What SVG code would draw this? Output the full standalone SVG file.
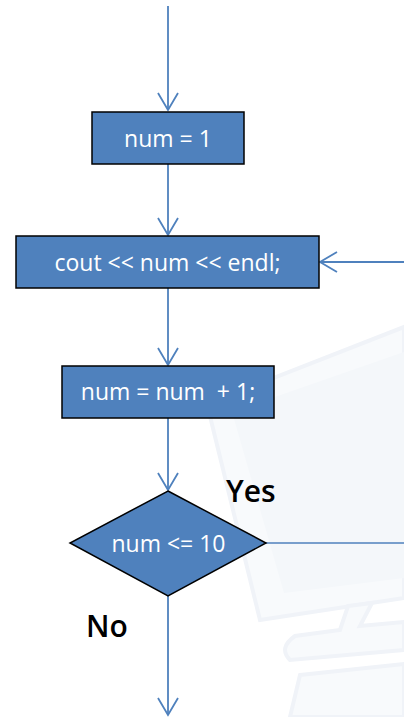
<svg xmlns="http://www.w3.org/2000/svg" width="404" height="717" viewBox="0 0 404 717">
  <style>
    .box { fill: #4F81BD; stroke: #000000; stroke-width: 1.5; }
    .lbl { font-family: "Open Sans", "Noto Sans", sans-serif; font-size: 23px; fill: #FFFFFF; text-anchor: middle; }
    .big { font-family: "Open Sans", "Noto Sans", sans-serif; font-size: 30px; font-weight: 600; fill: #000000; }
    .conn { fill: none; stroke: #4F81BD; stroke-width: 1.8; }
    .thin { fill: none; stroke: #4F81BD; stroke-width: 1.5; }
    .bgf { fill: #F8FAFC; stroke: #F0F3F8; stroke-width: 4; }
    .bgi { fill: #F4F7FA; stroke: none; }
  </style>
  <defs>
    <marker id="arr" viewBox="-1 -12 20 24" refX="17" refY="0" markerWidth="20" markerHeight="24" markerUnits="userSpaceOnUse" orient="auto">
      <path d="M0,-10 L17,0 L0,10" fill="none" stroke="#4F81BD" stroke-width="1.8"/>
    </marker>
  </defs>

  <rect x="0" y="0" width="404" height="717" fill="#FFFFFF"/>

  <g id="background">
    <path class="bgf" d="M207,404 L404,327 L404,598 L260,620 Z"/>
    <path class="bgi" d="M232,412 L404,352 L404,578 L284,593 Z"/>
    <path class="bgf" d="M348,606 L372,603 L360,626 L404,622 L404,650 L290,660 Q278,648 295,636 L340,630 Z"/>
    <path class="bgf" d="M300,675 L404,664 L404,717 L290,717 Z"/>
  </g>

  <g id="connectors">
    <path class="conn" d="M168,6 V110" marker-end="url(#arr)"/>
    <path class="conn" d="M168,164 V235" marker-end="url(#arr)"/>
    <path class="conn" d="M168,288 V365" marker-end="url(#arr)"/>
    <path class="conn" d="M168,418 V490" marker-end="url(#arr)"/>
    <path class="conn" d="M168,596 V715" marker-end="url(#arr)"/>
    <path class="thin" d="M266,543 H404"/>
    <path class="conn" d="M404,262 H320" marker-end="url(#arr)"/>
  </g>

  <g id="init">
    <rect class="box" x="92" y="112" width="152" height="52"/>
    <text class="lbl" x="168" y="147">num = 1</text>
  </g>

  <g id="print">
    <rect class="box" x="16" y="236" width="303" height="52"/>
    <text class="lbl" x="167.5" y="271">cout &lt;&lt; num &lt;&lt; endl;</text>
  </g>

  <g id="increment">
    <rect class="box" x="62" y="366" width="212" height="52"/>
    <text class="lbl" x="168" y="400" xml:space="preserve">num = num  + 1;</text>
  </g>

  <g id="decision">
    <polygon class="box" points="168,491 266,543 168,596 70,543"/>
    <text class="lbl" x="168.5" y="552">num &lt;= 10</text>
  </g>

  <g id="labels">
    <text class="big" x="226" y="502">Yes</text>
    <text class="big" x="86" y="637">No</text>
  </g>
</svg>
